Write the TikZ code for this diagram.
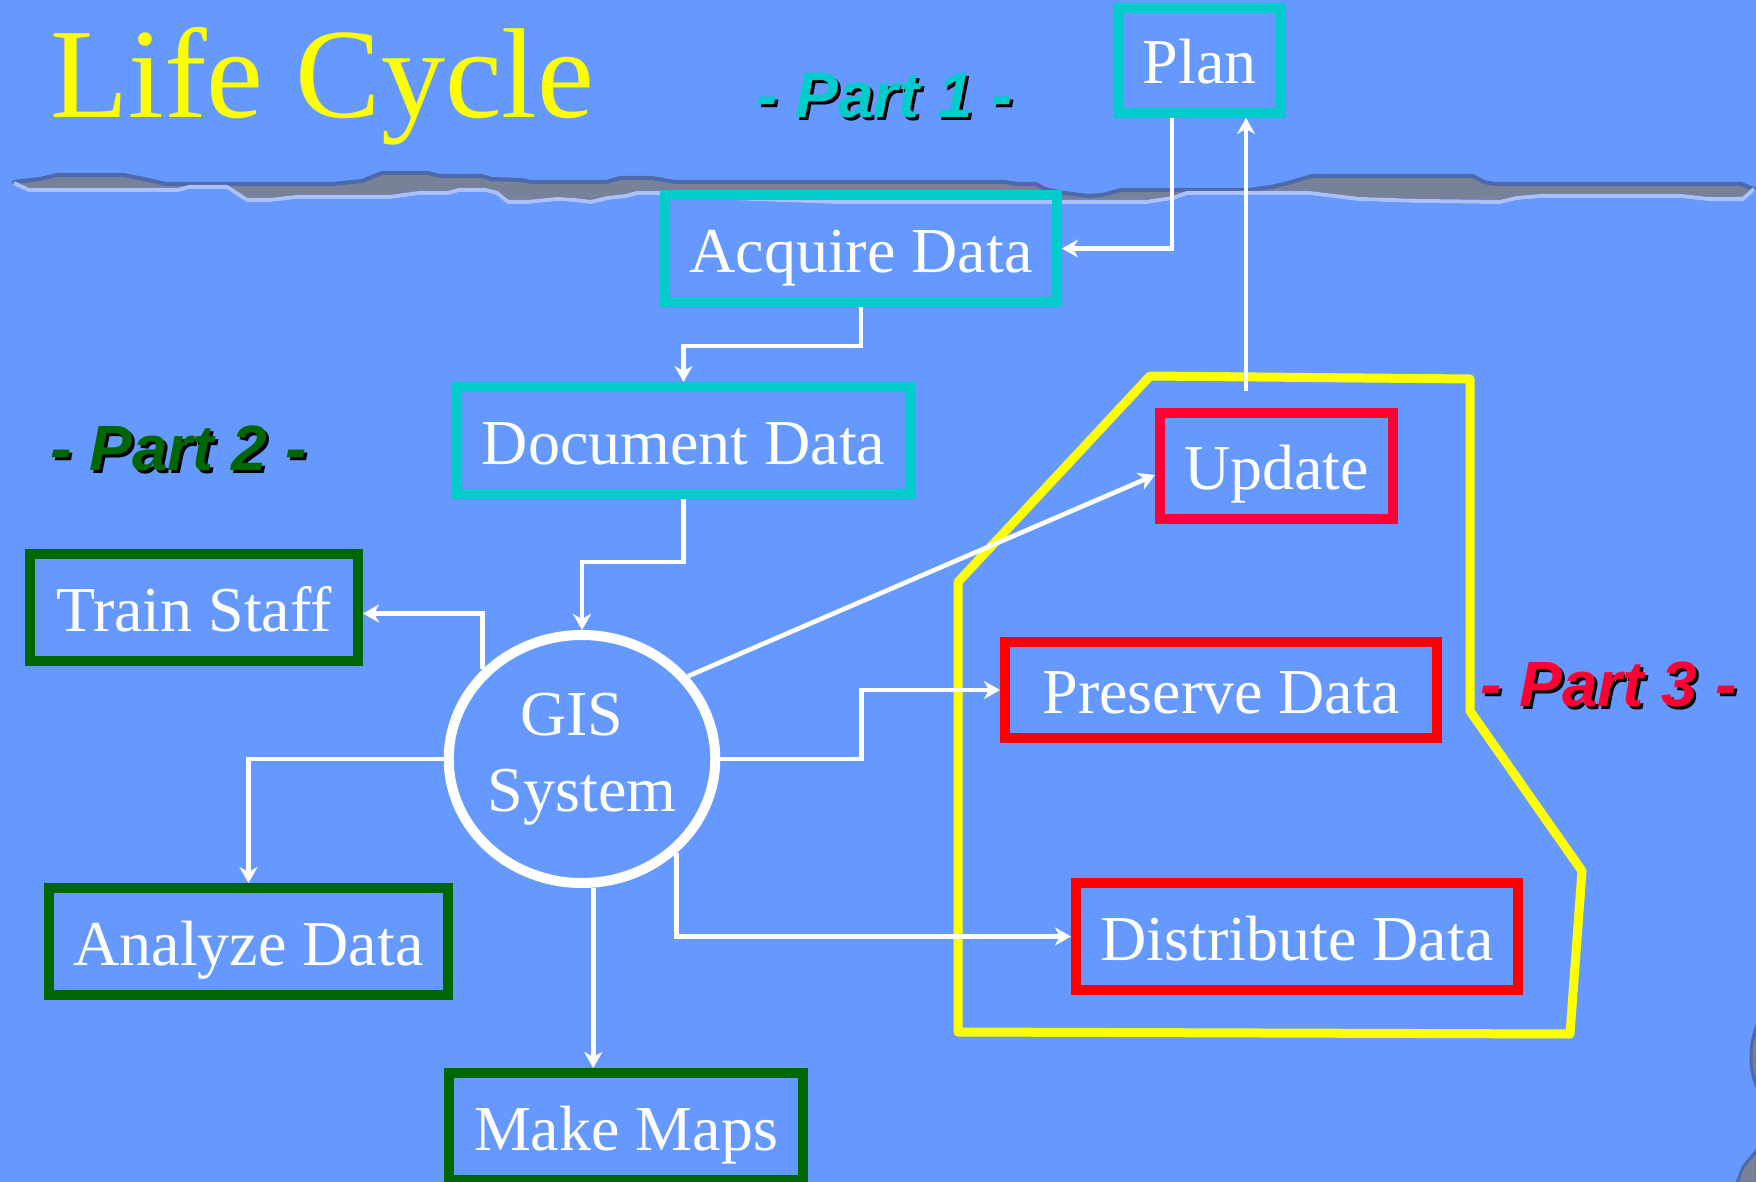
\documentclass[tikz,border=0pt]{standalone}
\usepackage{fontspec}
\setmainfont{Liberation Serif}
\newfontfamily\partfont{Liberation Sans}
\usetikzlibrary{
    arrows.meta,
    calc,
    shapes.geometric
}

\definecolor{bgblue}{RGB}{102,153,255}
\definecolor{boxcyan}{RGB}{0,204,204}
\definecolor{boxgreen}{RGB}{0,102,0}
\definecolor{boxred}{RGB}{255,0,0}
\definecolor{boxcrimson}{RGB}{255,0,51}
\definecolor{landgrey}{RGB}{119,130,153}
\definecolor{landtop}{RGB}{77,105,170}
\definecolor{landedge}{RGB}{170,192,255}
\definecolor{lifeyellow}{RGB}{255,255,0}

\begin{document}
\begin{tikzpicture}[
    x=0.5pt, y=-0.5pt,
    stage/.style={
      draw,
      rectangle,
      line width=5pt,
      inner sep=0pt,
      text=white,
      font=\fontsize{32}{38}\selectfont,
      text height=23.5pt,
      text depth=0pt
    },
    partlbl/.style={
      anchor=base west,
      inner sep=0pt,
      font=\partfont\bfseries\itshape\fontsize{32}{38}\selectfont
    },
    arr/.style={
      draw=white,
      line width=2.3pt,
      -{Stealth[length=8pt, width=9pt, inset=2.5pt]}
    }
  ]

  \useasboundingbox (0,0) rectangle (1756,1182);
  \fill[bgblue] (0,0) rectangle (1756,1182);

  % horizon {{{
  \filldraw[fill=landgrey, draw=landtop, line width=2pt, line join=round]
    (14,182) -- (40,179) -- (57,175) -- (123,175) -- (144,179) -- (166,184)
    -- (333,184) -- (362,181) -- (382,173) -- (428,173) -- (439,176)
    -- (482,176) -- (491,179) -- (522,180) -- (531,182) -- (606,182)
    -- (620,178) -- (652,178) -- (675,182) -- (1004,182) -- (1017,184)
    -- (1036,184) -- (1045,189) -- (1064,193) -- (1088,196) -- (1102,195)
    -- (1121,190) -- (1249,190) -- (1271,187) -- (1288,183) -- (1312,176)
    -- (1473,176) -- (1484,182) -- (1495,184) -- (1741,184) -- (1754,189)
    -- (1743,199) -- (1708,199) -- (1681,196) -- (1541,196) -- (1517,198)
    -- (1500,202) -- (1419,201) -- (1359,199) -- (1309,193) -- (1187,193)
    -- (1173,198) -- (1146,202) -- (1015,202) -- (838,202) -- (700,197)
    -- (660,193) -- (637,193) -- (626,196) -- (608,198) -- (591,202)
    -- (574,200) -- (557,199) -- (528,202) -- (508,202) -- (497,193)
    -- (485,190) -- (459,190) -- (448,193) -- (419,193) -- (390,197)
    -- (296,197) -- (270,200) -- (247,200) -- (227,187) -- (189,187)
    -- (178,190) -- (29,190) -- cycle;
  \draw[landedge, line width=2pt, line join=round]
    (14,183) -- (29,190) -- (178,190) -- (189,187) -- (227,187) -- (247,200)
    -- (270,200) -- (296,197) -- (390,197) -- (419,193) -- (448,193)
    -- (459,190) -- (485,190) -- (497,193) -- (508,202) -- (528,202)
    -- (557,199) -- (574,200) -- (591,202) -- (608,198) -- (626,196)
    -- (637,193) -- (660,193) -- (700,197) -- (838,202) -- (1015,202)
    -- (1146,202) -- (1173,198) -- (1187,193) -- (1309,193) -- (1359,199)
    -- (1419,201) -- (1500,202) -- (1517,198) -- (1541,196) -- (1681,196)
    -- (1708,199) -- (1743,199) -- (1754,189);
  \filldraw[fill=landgrey, draw=landtop, line width=1.5pt]
    (1757,1025) .. controls (1749,1045) and (1749,1070) .. (1757,1087) -- cycle;
  \filldraw[fill=landgrey, draw=landtop, line width=1.5pt]
    (1757,1150) -- (1743,1167) -- (1737,1183) -- (1757,1183) -- cycle;
  % }}}

  % part 3 frame {{{
  \draw[lifeyellow, line width=4.5pt, line join=round]
    (1150,376) -- (1470,379) -- (1470,711) -- (1582,871) -- (1570,1034)
    -- (958,1032) -- (958,582) -- cycle;
  % }}}

  % titles {{{
  \node[anchor=base west, inner sep=0pt, text=lifeyellow,
        font=\fontsize{64}{70}\selectfont] (title) at (50,118) {Life Cycle};
  \node[partlbl, text=black] (part1shadow) at (759,121) {- Part 1 -};
  \node[partlbl, text=boxcyan] (part1) at (756,118) {- Part 1 -};
  \node[partlbl, text=black] (part2shadow) at (53,473) {- Part 2 -};
  \node[partlbl, text=boxgreen] (part2) at (50,470) {- Part 2 -};
  \node[partlbl, text=black] (part3shadow) at (1483,709) {- Part 3 -};
  \node[partlbl, text=boxcrimson] (part3) at (1480,706) {- Part 3 -};
  % }}}

  % part 1 {{{
  \node[
    stage,
    draw=boxcyan,
    minimum width=81.5pt,
    minimum height=52.5pt
  ] (plan) at (1199.5,60.5)
  {Plan};
  \node[
    stage,
    draw=boxcyan,
    minimum width=196pt,
    minimum height=53.5pt
  ] (acquire) at (861,248.5)
  {Acquire Data};
  \node[
    stage,
    draw=boxcyan,
    minimum width=226.5pt,
    minimum height=53.5pt
  ] (document) at (683.5,440.5)
  {Document Data};
  % }}}

  % gis {{{
  \node[
    draw=white,
    ellipse,
    line width=5pt,
    inner sep=0pt,
    minimum width=132pt,
    minimum height=124pt,
    align=center,
    text=white,
    font=\fontsize{32}{38}\selectfont
  ] (gis) at (582,759)
  {GIS\hspace*{10pt}\\System};
  % }}}

  % part 2 {{{
  \node[
    stage,
    draw=boxgreen,
    minimum width=164pt,
    minimum height=53.5pt
  ] (train) at (194,607.5)
  {Train Staff};
  \node[
    stage,
    draw=boxgreen,
    minimum width=199.5pt,
    minimum height=53.5pt
  ] (analyze) at (248.5,941.5)
  {Analyze Data};
  \node[
    stage,
    draw=boxgreen,
    minimum width=177pt,
    minimum height=53.5pt
  ] (maps) at (626,1126.5)
  {Make Maps};
  % }}}

  % part 3 {{{
  \node[
    stage,
    draw=boxcrimson,
    minimum width=116.5pt,
    minimum height=53pt
  ] (update) at (1276.5,466)
  {Update};
  \node[
    stage,
    draw=boxred,
    minimum width=216pt,
    minimum height=48pt
  ] (preserve) at (1221,690)
  {Preserve Data};
  \node[
    stage,
    draw=boxred,
    minimum width=221pt,
    minimum height=53.5pt
  ] (distribute) at (1297,936.5)
  {Distribute Data};
  % }}}

  % connectors {{{
  \draw[arr] ($(plan.south)+(-27.5,0)$) |- (acquire.east);
  \draw[arr] ($(update.north)+(-30.5,-17)$) coordinate (upd) -- (upd |- plan.south);
  \draw[arr] (acquire.south) -- ++(0,39) -| (document.north);
  \draw[arr] (document.south) -- ++(0,63) -| (gis.north);
  \draw[arr] (gis.138) |- ($(train.east)+(0,6)$);
  \draw[arr] (gis.west) -| (analyze.north);
  \draw[arr] (gis.275) -- (gis.275 |- maps.north);
  \draw[arr] (gis.east) -- ++(141,0) |- (preserve.west);
  \draw[arr] (gis.315) |- (distribute.west);
  \draw[arr] (gis.38) -- ($(update.west)+(0,9)$);
  % }}}

\end{tikzpicture}
\end{document}
